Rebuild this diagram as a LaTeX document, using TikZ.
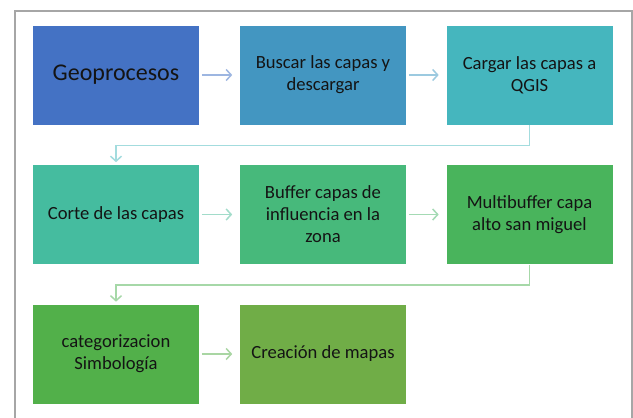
\documentclass[tikz,border=0pt]{standalone}
\usepackage{fontspec}
\setmainfont{Carlito}
\usetikzlibrary{arrows.meta}
\definecolor{cA}{HTML}{4472C4}
\definecolor{cB}{HTML}{4396C1}
\definecolor{cC}{HTML}{45B6BE}
\definecolor{cD}{HTML}{45BC9F}
\definecolor{cE}{HTML}{47B97B}
\definecolor{cF}{HTML}{49B45C}
\definecolor{cG}{HTML}{52B04A}
\definecolor{cH}{HTML}{70AD47}
\definecolor{aA}{HTML}{9DB6E1}
\definecolor{aB}{HTML}{9CCAE0}
\definecolor{aC}{HTML}{A3DCDE}
\definecolor{aD}{HTML}{A2DCCA}
\definecolor{aE}{HTML}{A4DAB4}
\definecolor{aF}{HTML}{A6D8A8}
\definecolor{aG}{HTML}{A9D6A3}
\definecolor{frame}{HTML}{A6A6A6}
\definecolor{txt}{HTML}{141414}
\tikzset{
  stepbox/.style={minimum width=167pt, minimum height=100pt, inner sep=0pt,
    align=center, text=txt, draw=white, line width=0.6pt,
    font=\fontsize{18.6}{22}\selectfont},
  link/.style={line width=1.5pt, -{Straight Barb[length=5pt,width=11pt]},
    shorten <=2pt, shorten >=7pt},
  elbow/.style={line width=1.5pt, -{Straight Barb[length=5pt,width=11pt]},
    shorten >=2pt},
}
\begin{document}
\begin{tikzpicture}[x=1pt,y=-1pt]
\useasboundingbox (0,0) rectangle (633,418);
\clip (0,0) rectangle (633,418);
\fill[white] (0,0) rectangle (633,418);
\draw[frame, line width=1.6pt] (15,430) -- (15,11) -- (632,11) -- (632,430);
\node[stepbox, fill=cA, font=\fontsize{24}{28}\selectfont] (a1) at (116,75) {Geoprocesos};
\node[stepbox, fill=cB] (a2) at (323,75) {Buscar las capas y\\descargar};
\node[stepbox, fill=cC] (a3) at (529.5,75) {Cargar las capas a\\QGIS};
\node[stepbox, fill=cD] (b1) at (116,214.5) {Corte de las capas};
\node[stepbox, fill=cE] (b2) at (323,214.5) {Buffer capas de\\influencia en la\\zona};
\node[stepbox, fill=cF] (b3) at (529.5,214.5) {Multibuffer capa\\alto san miguel};
\node[stepbox, fill=cG] (c1) at (116,354) {categorizacion\\Simbología};
\node[stepbox, fill=cH] (c2) at (323,354) {Creación de mapas};
\draw[link, aA] (a1.east) -- (a2.west);
\draw[link, aB] (a2.east) -- (a3.west);
\draw[elbow, aC] (a3.south) -- ++(0,20) -| (b1.north);
\draw[link, aD] (b1.east) -- (b2.west);
\draw[link, aE] (b2.east) -- (b3.west);
\draw[elbow, aF] (b3.south) -- ++(0,20) -| (c1.north);
\draw[link, aG] (c1.east) -- (c2.west);
\end{tikzpicture}
\end{document}
